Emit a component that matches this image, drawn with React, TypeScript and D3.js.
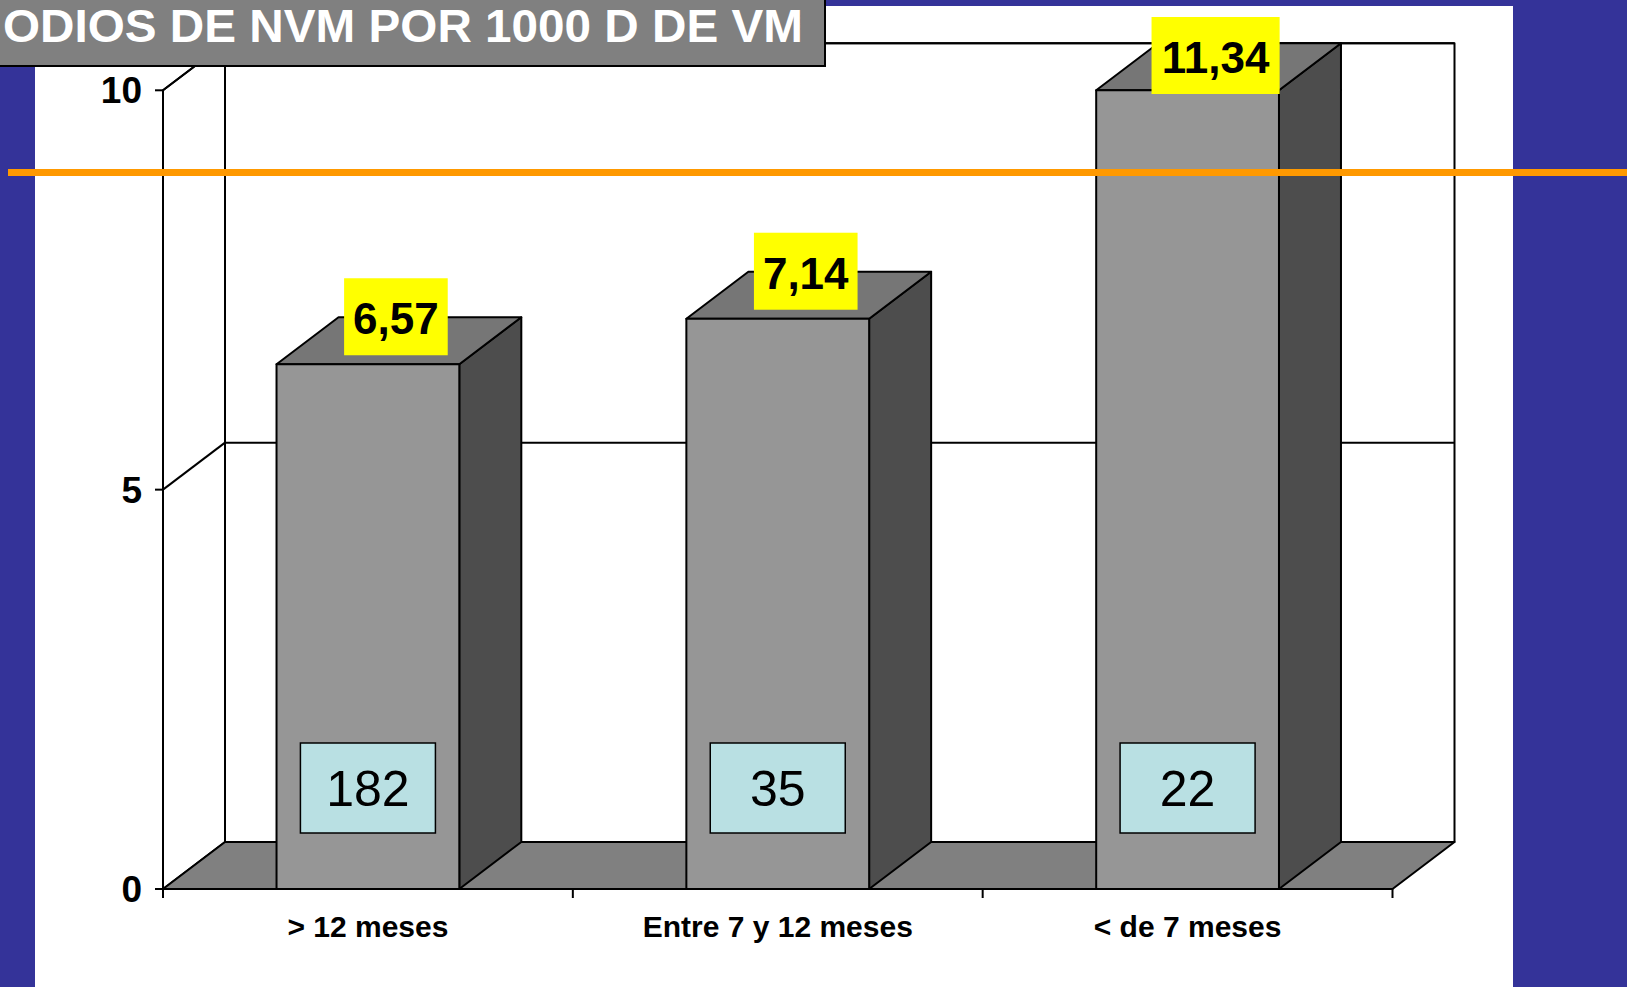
import React, { useEffect } from 'react';
import * as d3 from 'd3';

// datos
const CATEGORIES = ['> 12 meses', 'Entre 7 y 12 meses', '< de 7 meses'];
const RATES = [6.57, 7.14, 11.34];
const RATE_LABELS = ['6,57', '7,14', '11,34'];
const COUNTS = [182, 35, 22];
const Y_TICKS = [0, 5, 10];
const REFERENCE = 8.97;
const TITLE = 'ODIOS DE NVM POR 1000 D DE VM';

const W = 1627;
const H = 987;
const FONT = '"Liberation Sans", Arial, Helvetica, sans-serif';
const BLUE = '#343399';

// marco 3D
const plot = { left: 163, right: 1392.5, top: 90.3, bottom: 889 };
const DX = 62;
const DY = 47;

const charW = (s: string) =>
  s.split('').reduce((a, ch) => a + (ch === ',' ? 0.278 : 0.556), 0);

const pts = (p: number[][]) => p.map(d => d.join(',')).join(' ');

export default function App() {
  useEffect(() => {
    document.body.style.margin = '0';
    document.body.style.background = BLUE;
  }, []);

  const x = d3.scaleBand<string>()
    .domain(CATEGORIES)
    .range([plot.left, plot.right])
    .paddingInner(0.554)
    .paddingOuter(0.277);

  const y = d3.scaleLinear()
    .domain([0, 10])
    .range([plot.bottom, plot.top])
    .clamp(true);

  const bw = x.bandwidth();
  const step = x.step();
  const boundaries = d3.range(CATEGORIES.length + 1).map(i => plot.left + i * step);
  const backL = plot.left + DX;
  const backR = plot.right + DX;
  const y0 = y(0);
  const yMax = y(10);

  const line = { stroke: '#000', strokeWidth: 2, strokeLinejoin: 'round' as const };

  return (
    <svg width={W} height={H} style={{ display: 'block', position: 'fixed', left: 0, top: 0 }}
      fontFamily={FONT}>
      <rect x={0} y={0} width={W} height={H} fill={BLUE} />
      <rect x={35} y={6} width={1478} height={H - 6} fill="#fff" />

      {/* pared trasera */}
      <rect x={backL} y={yMax - DY} width={backR - backL} height={y0 - yMax}
        fill="#fff" {...line} />
      {/* pared izquierda */}
      <polygon points={pts([[plot.left, y0], [plot.left, yMax], [backL, yMax - DY], [backL, y0 - DY]])}
        fill="#fff" {...line} />

      {/* líneas de división */}
      {Y_TICKS.filter(t => t > 0).map(t => (
        <g key={t}>
          <line x1={plot.left} y1={y(t)} x2={backL} y2={y(t) - DY} {...line} />
          <line x1={backL} y1={y(t) - DY} x2={backR} y2={y(t) - DY} {...line} />
        </g>
      ))}

      {/* suelo */}
      <polygon points={pts([[plot.left, y0], [backL, y0 - DY], [backR, y0 - DY], [plot.right, y0]])}
        fill="#808080" {...line} />

      {/* eje Y */}
      <line x1={plot.left} y1={y0} x2={plot.left} y2={yMax} {...line} />
      {Y_TICKS.map(t => (
        <g key={t}>
          <line x1={plot.left - 8} y1={y(t)} x2={plot.left} y2={y(t)} {...line} />
          <text x={142} y={y(t) + 13} textAnchor="end" fontSize={37} fontWeight="bold">{t}</text>
        </g>
      ))}

      {/* eje X */}
      {boundaries.map((b, i) => (
        <line key={i} x1={b} y1={y0} x2={b} y2={y0 + 9} {...line} />
      ))}
      {CATEGORIES.map(c => (
        <text key={c} x={(x(c) as number) + bw / 2} y={y0 + 48} textAnchor="middle"
          fontSize={30} fontWeight="bold">{c}</text>
      ))}

      {/* barras */}
      {CATEGORIES.map((c, i) => {
        const x0 = x(c) as number;
        const x1 = x0 + bw;
        const yt = y(RATES[i]);
        return (
          <g key={c}>
            <polygon points={pts([[x1, yt], [x1 + DX, yt - DY], [x1 + DX, y0 - DY], [x1, y0]])}
              fill="#4d4d4d" {...line} />
            <polygon points={pts([[x0, yt], [x0 + DX, yt - DY], [x1 + DX, yt - DY], [x1, yt]])}
              fill="#767676" {...line} />
            <rect x={x0} y={yt} width={bw} height={y0 - yt} fill="#969696" {...line} />
          </g>
        );
      })}

      {/* cajas con n */}
      {CATEGORIES.map((c, i) => {
        const cx = (x(c) as number) + bw / 2;
        return (
          <g key={c}>
            <rect x={cx - 67.5} y={743} width={135} height={90} fill="#b9e0e3"
              stroke="#000" strokeWidth={1.5} />
            <text x={cx} y={806} textAnchor="middle" fontSize={50}>{COUNTS[i]}</text>
          </g>
        );
      })}

      {/* etiquetas de valor */}
      {CATEGORIES.map((c, i) => {
        const cx = (x(c) as number) + bw / 2 + 28;
        const w = charW(RATE_LABELS[i]) * 44 + 18;
        const hgt = 77;
        let top = y(RATES[i]) - 9 - hgt;
        if (top < 17) top = 17;
        return (
          <g key={c}>
            <rect x={cx - w / 2} y={top} width={w} height={hgt} fill="#ffff00" />
            <text x={cx} y={top + hgt - 21} textAnchor="middle" fontSize={44}
              fontWeight="bold">{RATE_LABELS[i]}</text>
          </g>
        );
      })}

      {/* línea de referencia */}
      <line x1={8} y1={y(REFERENCE)} x2={W} y2={y(REFERENCE)} stroke="#ff9900" strokeWidth={7} />

      {/* título */}
      <rect x={-2} y={-2} width={827} height={68} fill="#808080" stroke="#000" strokeWidth={2} />
      <text x={3} y={42} fill="#fff" fontSize={46} fontWeight="bold"
        textLength={800} lengthAdjust="spacingAndGlyphs">{TITLE}</text>
    </svg>
  );
}
